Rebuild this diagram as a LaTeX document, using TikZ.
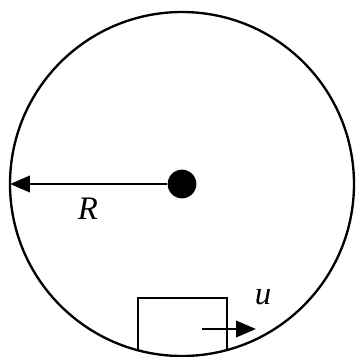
\documentclass[tikz,border=0pt]{standalone}
\usepackage{fontspec}
\setmainfont{Liberation Serif}
\usetikzlibrary{arrows.meta}

\tikzset{
  wheel/.style={line width=2pt},
  vec/.style={line width=2pt,-{Triangle[length=17pt,width=14pt]}},
  dot/.style={circle,fill=black,inner sep=0pt,minimum size=24.5pt},
  lbl/.style={font=\fontsize{28}{30}\selectfont\itshape,inner sep=0pt}
}

\begin{document}
\begin{tikzpicture}[x=0.03cm,y=-0.03cm]
\useasboundingbox (0,0) rectangle (357,356);
\coordinate (O) at (182,184);
\draw[wheel] (O) circle[radius=172] ; %Kreis
\node[dot] (centre) at (O) {};
\coordinate (rim) at (10,184);
\draw[vec] (centre) -- (rim) ; %Radius
\node[lbl] (lblR) at (88,209) {R};
% Klotz unten
\coordinate (bl) at (138,350.3);
\coordinate (tl) at (138,298);
\coordinate (tr) at (227,298);
\coordinate (br) at (227,350);
\draw[wheel] (bl)--(tl)--(tr)--(br);
\coordinate (uA) at (202,329);
\coordinate (uB) at (256,329);
\draw[vec] (uA) -- (uB) ; %Geschwindigkeit
\node[lbl] (lblu) at (263,297) {u};
\end{tikzpicture}
\end{document}
